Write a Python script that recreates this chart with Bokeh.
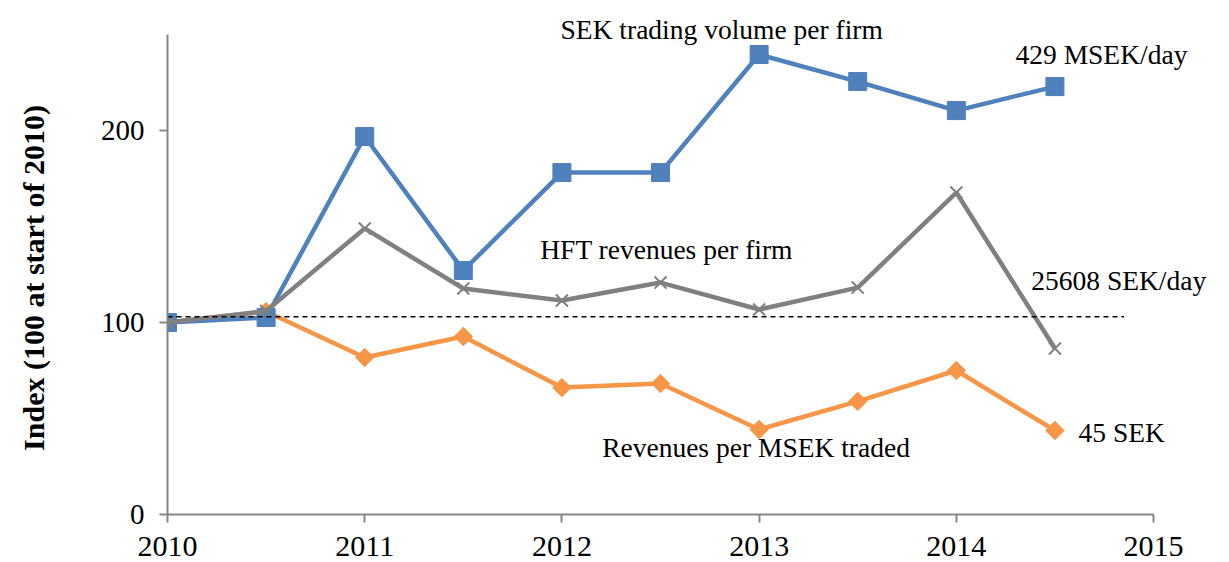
from bokeh.plotting import figure
from bokeh.models import Range1d, FixedTicker, Label
from bokeh.embed import file_html
from bokeh.resources import INLINE
import math

# ---- data ----
periods = [2010.0, 2010.5, 2011.0, 2011.5, 2012.0, 2012.5, 2013.0, 2013.5, 2014.0, 2014.5]
volume_per_firm = [100, 102.6, 196.9, 127.1, 178.1, 178.1, 239.6, 225.5, 210.4, 222.9]
hft_revenues_per_firm = [100, 106, 149, 117.7, 111.5, 120.8, 106.8, 118.2, 167.7, 86.5]
revenues_per_msek = [100, 105.7, 81.8, 92.7, 66.1, 68.2, 44.3, 58.9, 75.0, 43.75]
ref_x = [2010.0, 2014.85]
ref_y = [103, 103]
x_ticks = [2010, 2011, 2012, 2013, 2014, 2015]
y_ticks = [0, 100, 200]
y_title = "Index (100 at start of 2010)"

FONT = "Liberation Serif"
BLUE = "#4F81BD"
GRAY = "#808080"
ORANGE = "#F79646"
AXIS = "#868686"

p = figure(width=1213, height=562, output_backend="svg", toolbar_location=None,
           x_range=Range1d(2010, 2015.304), y_range=Range1d(0, 262),
           min_border_left=167, min_border_right=0, min_border_top=11, min_border_bottom=48)
p.outline_line_color = None
p.grid.visible = False

for ax in (p.xaxis[0], p.yaxis[0]):
    ax.axis_line_color = AXIS
    ax.axis_line_width = 2
    ax.major_tick_line_color = AXIS
    ax.major_tick_line_width = 2
    ax.major_tick_in = 0
    ax.major_tick_out = 8
    ax.minor_tick_line_color = None
    ax.major_label_text_font = FONT
    ax.major_label_text_color = "black"

p.xaxis.ticker = FixedTicker(ticks=x_ticks)
p.xaxis.bounds = (2010, 2015)
p.xaxis.major_label_standoff = 14
p.xaxis.major_label_text_font_size = "30px"
p.yaxis.ticker = FixedTicker(ticks=y_ticks)
p.yaxis.bounds = (0, 250)
p.yaxis.major_label_standoff = 15
p.yaxis.major_label_text_font_size = "29px"
# trailing no-break spaces nudge the centred title slightly downward
p.yaxis.axis_label = y_title + "\u00a0" * 4
p.yaxis.axis_label_text_font = FONT
p.yaxis.axis_label_text_font_style = "bold"
p.yaxis.axis_label_text_font_size = "30px"
p.yaxis.axis_label_text_color = "black"
p.yaxis.axis_label_standoff = 48

# series
p.line(periods, revenues_per_msek, line_color=ORANGE, line_width=4.5)
p.scatter(periods, revenues_per_msek, marker="square", angle=math.pi / 4, size=13, color=ORANGE)
p.line(periods, volume_per_firm, line_color=BLUE, line_width=4.5)
p.scatter(periods, volume_per_firm, marker="square", size=18, color=BLUE)
p.line(periods, hft_revenues_per_firm, line_color=GRAY, line_width=4.5)
p.scatter(periods, hft_revenues_per_firm, marker="x", size=17, line_color=GRAY, line_width=2)
p.line(ref_x, ref_y, line_color="black", line_width=1.6, line_dash="5 4")

labels = [
    ("SEK trading volume per firm", 2011.993, 252.6),
    ("429 MSEK/day", 2014.30, 239.4),
    ("HFT revenues per firm", 2011.89, 138.0),
    ("25608 SEK/day", 2014.38, 122.0),
    ("Revenues per MSEK traded", 2012.204, 35.0),
    ("45 SEK", 2014.62, 42.8),
]
for t, x, y in labels:
    p.add_layout(Label(x=x, y=y, text=t, text_font=FONT, text_font_size="27.5px",
                       text_color="black", text_baseline="alphabetic", text_align="left"))

open("out.html", "w").write(file_html(p, INLINE))
